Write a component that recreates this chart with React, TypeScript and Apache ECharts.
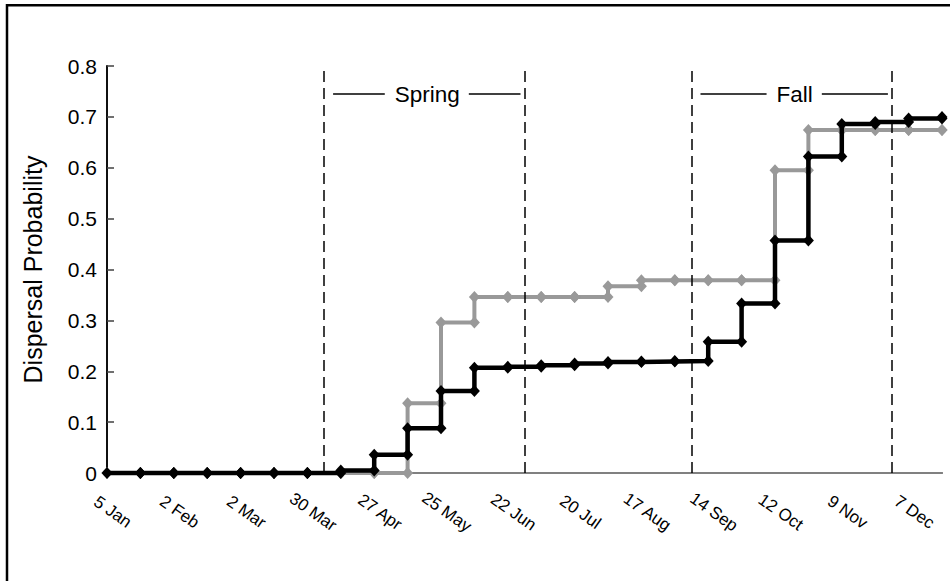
import React, { useEffect, useRef } from 'react';
import * as echarts from 'echarts';

// Sampling dates, in days after 5 Jan (fortnightly samples)
const sampleDays = [0, 14, 28, 42, 56, 70, 84, 98, 112, 126, 140, 154, 168, 182, 196, 210, 224, 238, 252, 266, 280, 294, 308, 322, 336, 350];

// Cumulative dispersal probability at each sampling date
const blackSeries = [0, 0, 0, 0, 0, 0, 0, 0.005, 0.036, 0.088, 0.161, 0.207, 0.209, 0.212, 0.215, 0.218, 0.219, 0.22, 0.258, 0.333, 0.457, 0.622, 0.686, 0.69, 0.697, 0.7];
const greySeries = [0, 0, 0, 0, 0, 0, 0, 0, 0, 0.137, 0.296, 0.346, 0.346, 0.346, 0.346, 0.367, 0.379, 0.379, 0.379, 0.379, 0.595, 0.674, 0.674, 0.674, 0.674, 0.674];

// Tick labels every 28 days
const dateLabels = ['5 Jan', '2 Feb', '2 Mar', '30 Mar', '27 Apr', '25 May', '22 Jun', '20 Jul', '17 Aug', '14 Sep', '12 Oct', '9 Nov', '7 Dec'];
const labelStep = 28;

// Season boundaries (days after 5 Jan)
const seasonNames = ['Spring', 'Fall'];
const seasonStart = [91, 245];
const seasonEnd = [175, 329];

const FONT = '"Liberation Sans", Arial, Helvetica, sans-serif';
const SEASON_FONT_SIZE = 22.5;

function stepPoints(values: number[]): number[][] {
  const pts: number[][] = [[sampleDays[0], values[0]]];
  for (let i = 1; i < values.length; i++) {
    pts.push([sampleDays[i], values[i - 1]]);
    pts.push([sampleDays[i], values[i]]);
  }
  return pts;
}

function textWidth(text: string, size: number): number {
  const ctx = document.createElement('canvas').getContext('2d');
  if (!ctx) return text.length * size * 0.55;
  ctx.font = `${size}px ${FONT}`;
  return ctx.measureText(text).width;
}

export default function App() {
  const ref = useRef<HTMLDivElement>(null);

  useEffect(() => {
    if (!ref.current) return;
    const chart = echarts.init(ref.current, undefined, { renderer: 'svg' });

    const boundaries = [...seasonStart, ...seasonEnd];

    const option: any = {
      animation: false,
      backgroundColor: '#fff',
      grid: { left: 107, top: 66, right: 8, bottom: 108 },
      xAxis: [
        {
          type: 'value',
          min: 0,
          max: 350,
          interval: labelStep,
          axisLine: { show: true, onZero: false, lineStyle: { color: '#808080', width: 2 } },
          axisTick: { show: false },
          splitLine: { show: false },
          axisLabel: {
            rotate: -35,
            align: 'center',
            verticalAlign: 'middle',
            margin: 35,
            padding: [0, 0, 0, 14],
            fontSize: 17,
            color: '#000',
            fontFamily: FONT,
            showMaxLabel: false,
            formatter: (v: number) => (v % labelStep === 0 ? dateLabels[v / labelStep] ?? '' : ''),
          },
        },
        {
          type: 'value',
          position: 'top',
          min: 0,
          max: 350,
          axisLine: { show: true, lineStyle: { color: '#808080', width: 2 } },
          axisTick: { show: false },
          axisLabel: { show: false },
          splitLine: { show: false },
        },
      ],
      yAxis: [
        {
          type: 'value',
          min: 0,
          max: 0.8,
          interval: 0.1,
          name: 'Dispersal Probability',
          nameLocation: 'middle',
          nameGap: 62,
          nameTextStyle: { fontSize: 25, color: '#000', fontFamily: FONT },
          axisLine: { show: true, lineStyle: { color: '#404040', width: 2 } },
          axisTick: { show: true, inside: true, length: 7, lineStyle: { color: '#404040', width: 1.5 } },
          axisLabel: {
            fontSize: 21,
            color: '#000',
            fontFamily: FONT,
            margin: 10,
            formatter: (v: number) => (v === 0 ? '0' : v.toFixed(1)),
          },
          splitLine: { show: false },
        },
        {
          type: 'value',
          position: 'right',
          min: 0,
          max: 0.8,
          axisLine: { show: true, lineStyle: { color: '#000', width: 1.5 } },
          axisTick: { show: false },
          axisLabel: { show: false },
          splitLine: { show: false },
        },
      ],
      series: [
        {
          type: 'line',
          data: stepPoints(greySeries),
          lineStyle: { color: '#999999', width: 4 },
          itemStyle: { color: '#999999' },
          symbol: 'diamond',
          symbolSize: [11, 12],
          clip: false,
          z: 3,
          markLine: {
            silent: true,
            symbol: 'none',
            label: { show: false },
            lineStyle: { color: '#000', type: [11, 6], width: 1.5 },
            data: boundaries.map((d) => ({ xAxis: d })),
          },
        },
        {
          type: 'line',
          data: stepPoints(blackSeries),
          lineStyle: { color: '#000', width: 4.5 },
          itemStyle: { color: '#000' },
          symbol: 'diamond',
          symbolSize: [11, 12],
          clip: false,
          z: 4,
        },
      ],
    };

    chart.setOption(option);

    // Season captions: a centred name with a rule on each side, spanning the season's boundaries
    const labelY = 94;
    const graphics: any[] = [
      {
        type: 'rect',
        shape: { x: 7, y: 5.3, width: 1000, height: 1000 },
        style: { fill: 'none', stroke: '#000', lineWidth: 2.5 },
        silent: true,
      },
    ];
    seasonNames.forEach((name, i) => {
      const xa = chart.convertToPixel({ xAxisIndex: 0 }, seasonStart[i]) as number;
      const xb = chart.convertToPixel({ xAxisIndex: 0 }, seasonEnd[i]) as number;
      const cx = (xa + xb) / 2 + 3;
      const w = textWidth(name, SEASON_FONT_SIZE);
      graphics.push(
        {
          type: 'line',
          shape: { x1: xa + 9, y1: labelY, x2: cx - w / 2 - 10, y2: labelY },
          style: { stroke: '#000', lineWidth: 1.3 },
          silent: true,
        },
        {
          type: 'text',
          x: cx,
          y: labelY,
          style: {
            text: name,
            fill: '#000',
            font: `${SEASON_FONT_SIZE}px ${FONT}`,
            align: 'center',
            verticalAlign: 'middle',
          },
          silent: true,
        },
        {
          type: 'line',
          shape: { x1: cx + w / 2 + 9, y1: labelY, x2: xb - 4, y2: labelY },
          style: { stroke: '#000', lineWidth: 1.3 },
          silent: true,
        }
      );
    });
    chart.setOption({ graphic: graphics });

    return () => chart.dispose();
  }, []);

  return (
    <div
      ref={ref}
      style={{ position: 'fixed', left: 0, top: 0, width: 950, height: 581 }}
    />
  );
}
